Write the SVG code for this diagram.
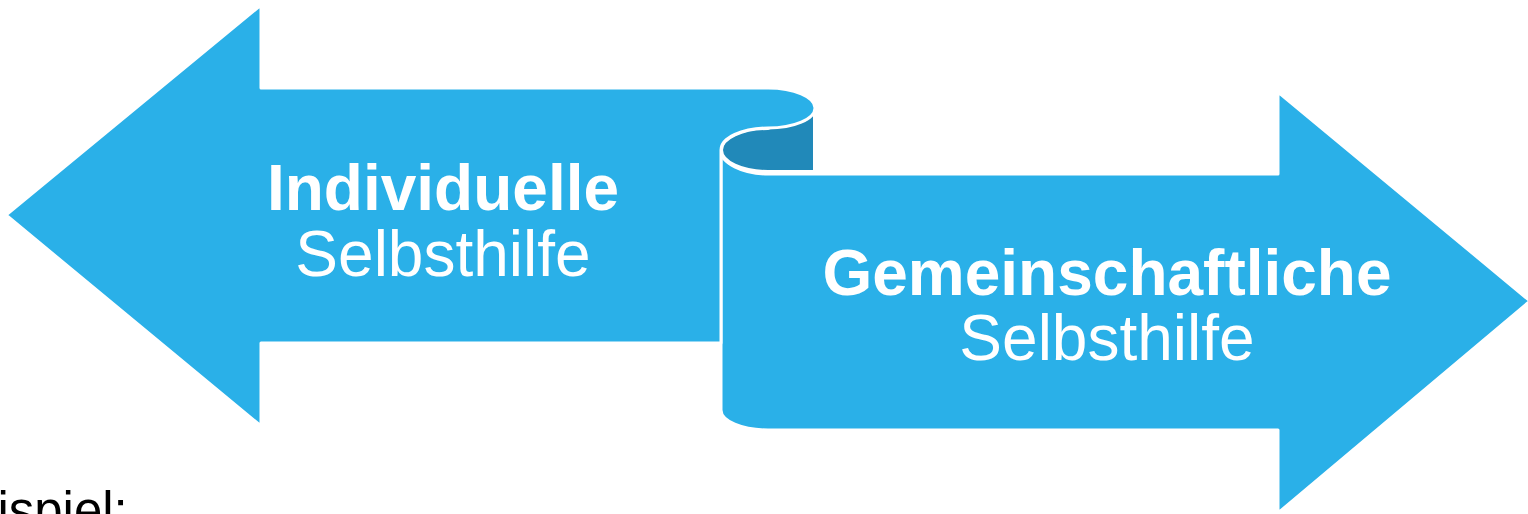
<svg xmlns="http://www.w3.org/2000/svg" width="1528" height="514" viewBox="0 0 1528 514">
  <style>
    .shape { fill: #2AB0E8; stroke: #FFFFFF; stroke-width: 3; stroke-linejoin: round; }
    .roll { fill: #2189B9; stroke: #FFFFFF; stroke-width: 4; stroke-linejoin: round; }
    .t { font-family: "Liberation Sans", Arial, sans-serif; fill: #FFFFFF; text-anchor: middle; font-size: 64px; }
    .b { font-weight: bold; }
  </style>
  <rect x="0" y="0" width="1528" height="514" fill="#FFFFFF"/>
  <g id="right-arrow">
    <path class="shape" d="M721,150 L721,410 A47,20 0 0 0 768,430 L1278,430 L1278,513 L1530,301 L1278,92 L1278,174 L768,174 A47,24 0 0 1 721,150 Z"/>
    <path class="roll" d="M721,150 A47,22 0 0 1 768,128 L815,108 L815,172 L768,172 A47,22 0 0 1 721,150 Z"/>
  </g>
  <g id="left-arrow">
    <path class="shape" d="M6,215 L261,5 L261,88 L768,88 A47,20 0 0 1 768,128 A47,22 0 0 0 721,150 L721,343 L261,343 L261,426 Z"/>
  </g>
  <g id="label-left">
    <text class="t b" x="443" y="210">Individuelle</text>
    <text class="t" x="443" y="276">Selbsthilfe</text>
  </g>
  <g id="label-right">
    <text class="t b" x="1107" y="295">Gemeinschaftliche</text>
    <text class="t" x="1107" y="360">Selbsthilfe</text>
  </g>
  <text x="-65" y="528" font-family="'Liberation Sans', Arial, sans-serif" font-size="51" fill="#000000">Beispiel:</text>
</svg>
